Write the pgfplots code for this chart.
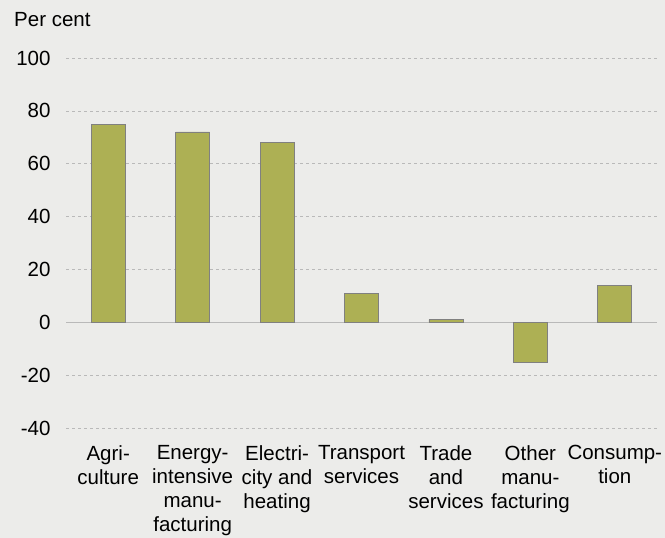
\documentclass[border=0pt]{standalone}
\usepackage{fontspec}
\setmainfont{Liberation Sans}
\usepackage{pgfplots}
\pgfplotsset{compat=1.18}
\definecolor{bg}{RGB}{236,236,234}
\definecolor{barc}{RGB}{173,176,84}
\definecolor{edgec}{RGB}{128,128,128}
\definecolor{gridc}{RGB}{185,185,185}
\newcommand{\cf}{\fontsize{20.5}{24}\selectfont}
\begin{document}
\begin{tikzpicture}[x=1pt,y=1pt]
\fill[bg] (0,0) rectangle (665,538);
\useasboundingbox (0,0) rectangle (665,538);
\node[anchor=base west, font=\cf, inner sep=0] at (14,511) {Per cent};
\begin{axis}[
  at={(66pt,110pt)}, anchor=south west, scale only axis,
  width=591pt, height=370pt,
  xmin=-0.5, xmax=6.5, ymin=-40, ymax=100,
  ytick={-40,-20,0,20,40,60,80,100},
  xtick={0,1,2,3,4,5,6},
  xticklabels={{Agri-\\culture},{Energy-\\intensive\\manu-\\facturing},{Electri-\\city and\\heating},{Transport\\services},{Trade\\and\\services},{Other\\manu-\\facturing},{Consump-\\tion}},
  axis line style={draw=none},
  major tick length=0pt,
  ymajorgrids, grid style={dashed, gridc, line width=0.6pt},
  /pgf/number format/assume math mode=true,
  yticklabel style={font=\cf, xshift=-12pt},
  xticklabel style={font=\cf, align=center, anchor=north, yshift=-14pt},
  ybar, bar width=34pt,
]
\draw[gridc, line width=1.2pt] (axis cs:-0.5,0) -- (axis cs:6.5,0);
\addplot[fill=barc, draw=edgec, line width=0.8pt] coordinates {(0,75) (1,72) (2,68) (3,11) (4,1) (5,-15) (6,14)};
\end{axis}
\end{tikzpicture}
\end{document}
